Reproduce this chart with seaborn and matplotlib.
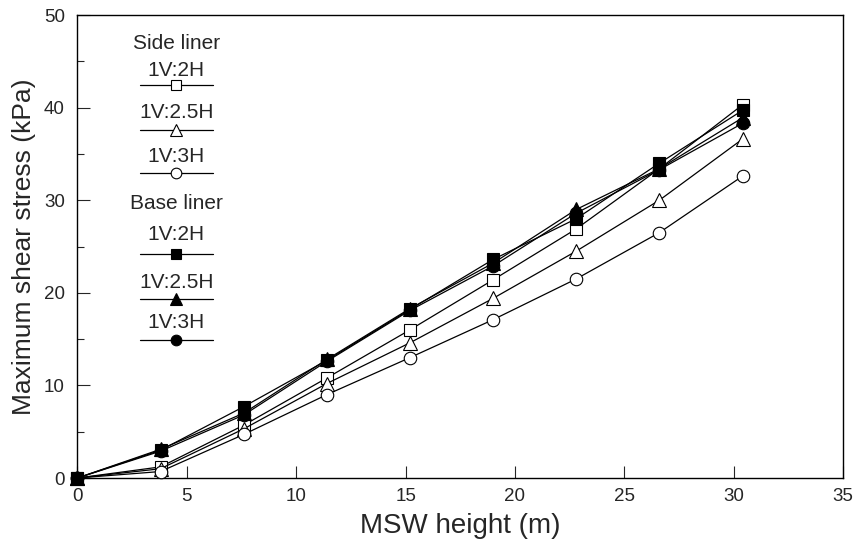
import numpy as np
import pandas as pd
import matplotlib
matplotlib.use('Agg')
import matplotlib.pyplot as plt
from matplotlib.ticker import MultipleLocator
import seaborn as sns

# MSW height (m)
height = [0, 3.8, 7.6, 11.4, 15.2, 19.0, 22.8, 26.6, 30.4]

# maximum shear stress (kPa)
side_2h = [0, 1.2, 5.7, 10.8, 16.0, 21.4, 26.9, 33.4, 40.3]
side_25h = [0, 1.0, 5.3, 10.2, 14.6, 19.4, 24.5, 30.0, 36.6]
side_3h = [0, 0.7, 4.7, 9.0, 13.0, 17.1, 21.5, 26.5, 32.6]
base_2h = [0, 3.0, 7.7, 12.7, 18.2, 23.6, 28.0, 34.0, 39.7]
base_25h = [0, 3.1, 7.0, 12.8, 18.3, 23.2, 29.0, 33.4, 38.9]
base_3h = [0, 2.9, 6.8, 12.6, 18.1, 22.9, 28.6, 33.3, 38.3]

slopes = ['1V:2H', '1V:2.5H', '1V:3H']
groups = ['Side liner', 'Base liner']

series = [
    ('Side liner', '1V:2H', side_2h, 's', 'white', 8),
    ('Side liner', '1V:2.5H', side_25h, '^', 'white', 10),
    ('Side liner', '1V:3H', side_3h, 'o', 'white', 9),
    ('Base liner', '1V:2H', base_2h, 's', 'black', 8),
    ('Base liner', '1V:2.5H', base_25h, '^', 'black', 10),
    ('Base liner', '1V:3H', base_3h, 'o', 'black', 9),
]

sns.set_style('ticks')
plt.rcParams['font.family'] = ['Liberation Sans', 'DejaVu Sans']

fig = plt.figure(figsize=(8.56, 5.5), dpi=100)
ax = fig.add_axes([0.0904, 0.1309, 0.8946, 0.8418])

for grp, slope, vals, mk, fc, ms in series:
    df = pd.DataFrame({'h': height, 'tau': vals})
    sns.lineplot(data=df, x='h', y='tau', ax=ax, color='black', lw=0.9,
                 marker=mk, markerfacecolor=fc, markeredgecolor='black',
                 markeredgewidth=0.8, markersize=ms, clip_on=False, zorder=3)

ax.set_xlim(0, 35)
ax.set_ylim(0, 50)
ax.xaxis.set_major_locator(MultipleLocator(5))
ax.yaxis.set_major_locator(MultipleLocator(10))
ax.yaxis.set_minor_locator(MultipleLocator(5))
ax.tick_params(axis='both', which='major', direction='in', length=9, width=0.8,
               labelsize=13.5)
ax.tick_params(axis='y', which='major', pad=9)
ax.tick_params(axis='x', which='major', pad=7)
ax.tick_params(axis='y', which='minor', direction='in', length=5, width=0.8)
for s in ax.spines.values():
    s.set_visible(True)
    s.set_linewidth(1.0)
    s.set_color('black')

ax.set_xlabel('MSW height (m)', fontsize=20, labelpad=6)
ax.set_ylabel('Maximum shear stress (kPa)', fontsize=19, labelpad=6)

# hand-built legend: label above a short line with its marker
xc, x0, x1 = 0.129, 0.082, 0.177
title_y = [0.9395, 0.592]
text_y = [[0.881, 0.790, 0.695], [0.527, 0.423, 0.335]]
line_y = [[0.849, 0.752, 0.659], [0.484, 0.387, 0.298]]
for g, grp in enumerate(groups):
    ax.text(xc, title_y[g], grp, transform=ax.transAxes, ha='center',
            va='center', fontsize=15)
    for k, slope in enumerate(slopes):
        _, _, _, mk, fc, ms = series[g * 3 + k]
        ax.text(xc, text_y[g][k], slope, transform=ax.transAxes, ha='center',
                va='center', fontsize=15)
        ax.plot([x0, x1], [line_y[g][k]] * 2, transform=ax.transAxes,
                color='black', lw=0.9)
        ax.plot([xc], [line_y[g][k]], transform=ax.transAxes, marker=mk,
                markerfacecolor=fc, markeredgecolor='black',
                markeredgewidth=0.8, markersize=ms * 0.85, color='black')

fig.savefig('out.png', dpi=100)
